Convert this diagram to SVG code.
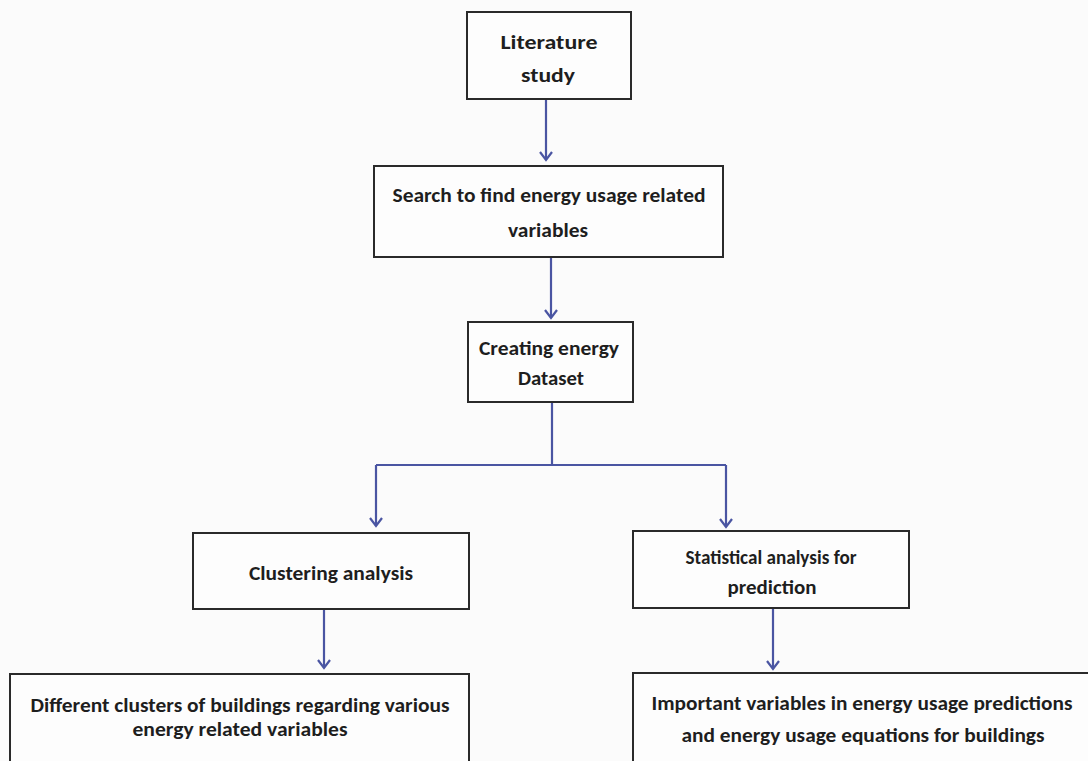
<svg xmlns="http://www.w3.org/2000/svg" width="1088" height="761" viewBox="0 0 1088 761">
<style>
.box{fill:#fdfdfd;stroke:#2a2a2a;stroke-width:2}
.t{font-family:Carlito,Lato,"Liberation Sans",Arial,sans-serif;font-weight:bold;font-size:21px;fill:#1e1e1e;text-anchor:middle;dominant-baseline:central}
.c{fill:none;stroke:#4a55a2;stroke-width:2.2}
</style>
<defs>
<marker id="ah" viewBox="0 0 14 14" refX="12" refY="7" markerWidth="14" markerHeight="14" markerUnits="userSpaceOnUse" orient="auto">
<path d="M4,1 L12,7 L4,13" fill="none" stroke="#4a55a2" stroke-width="2.2"/>
</marker>
</defs>
<rect width="1088" height="761" fill="#fbfbfb"/>
<g id="connectors">
<line class="c" x1="546" y1="99" x2="546" y2="160" marker-end="url(#ah)"/>
<line class="c" x1="551" y1="257" x2="551" y2="318" marker-end="url(#ah)"/>
<polyline class="c" points="552,402 552,465"/>
<polyline class="c" points="376,465 726,465"/>
<line class="c" x1="376" y1="465" x2="376" y2="526" marker-end="url(#ah)"/>
<line class="c" x1="726" y1="465" x2="726" y2="527" marker-end="url(#ah)"/>
<line class="c" x1="324" y1="608" x2="324" y2="668" marker-end="url(#ah)"/>
<line class="c" x1="773" y1="608" x2="773" y2="669" marker-end="url(#ah)"/>
</g>
<g id="n1">
<rect class="box" x="467" y="12" width="164" height="87"/>
<text class="t" x="549" y="42" textLength="97" lengthAdjust="spacingAndGlyphs">Literature</text>
<text class="t" x="548" y="75" textLength="54" lengthAdjust="spacingAndGlyphs">study</text>
</g>
<g id="n2">
<rect class="box" x="374" y="166" width="349" height="91"/>
<text class="t" x="549" y="195" textLength="313" lengthAdjust="spacingAndGlyphs">Search to find energy usage related</text>
<text class="t" x="548" y="230" textLength="80" lengthAdjust="spacingAndGlyphs">variables</text>
</g>
<g id="n3">
<rect class="box" x="468" y="322" width="165" height="80"/>
<text class="t" x="549" y="348" textLength="140" lengthAdjust="spacingAndGlyphs">Creating energy</text>
<text class="t" x="551" y="378" textLength="66" lengthAdjust="spacingAndGlyphs">Dataset</text>
</g>
<g id="n4">
<rect class="box" x="193" y="533" width="276" height="76"/>
<text class="t" x="331" y="573" textLength="164" lengthAdjust="spacingAndGlyphs">Clustering analysis</text>
</g>
<g id="n5">
<rect class="box" x="633" y="531" width="276" height="77"/>
<text class="t" x="771" y="557" textLength="171" lengthAdjust="spacingAndGlyphs">Statistical analysis for</text>
<text class="t" x="772" y="587" textLength="89" lengthAdjust="spacingAndGlyphs">prediction</text>
</g>
<g id="n6">
<rect class="box" x="10" y="674" width="459" height="100"/>
<text class="t" x="240" y="705" textLength="419" lengthAdjust="spacingAndGlyphs">Different clusters of buildings regarding various</text>
<text class="t" x="240" y="729" textLength="215" lengthAdjust="spacingAndGlyphs">energy related variables</text>
</g>
<g id="n7">
<rect class="box" x="633" y="673" width="470" height="100"/>
<text class="t" x="862" y="703" textLength="421" lengthAdjust="spacingAndGlyphs">Important variables in energy usage predictions</text>
<text class="t" x="863" y="735" textLength="363" lengthAdjust="spacingAndGlyphs">and energy usage equations for buildings</text>
</g>
</svg>
